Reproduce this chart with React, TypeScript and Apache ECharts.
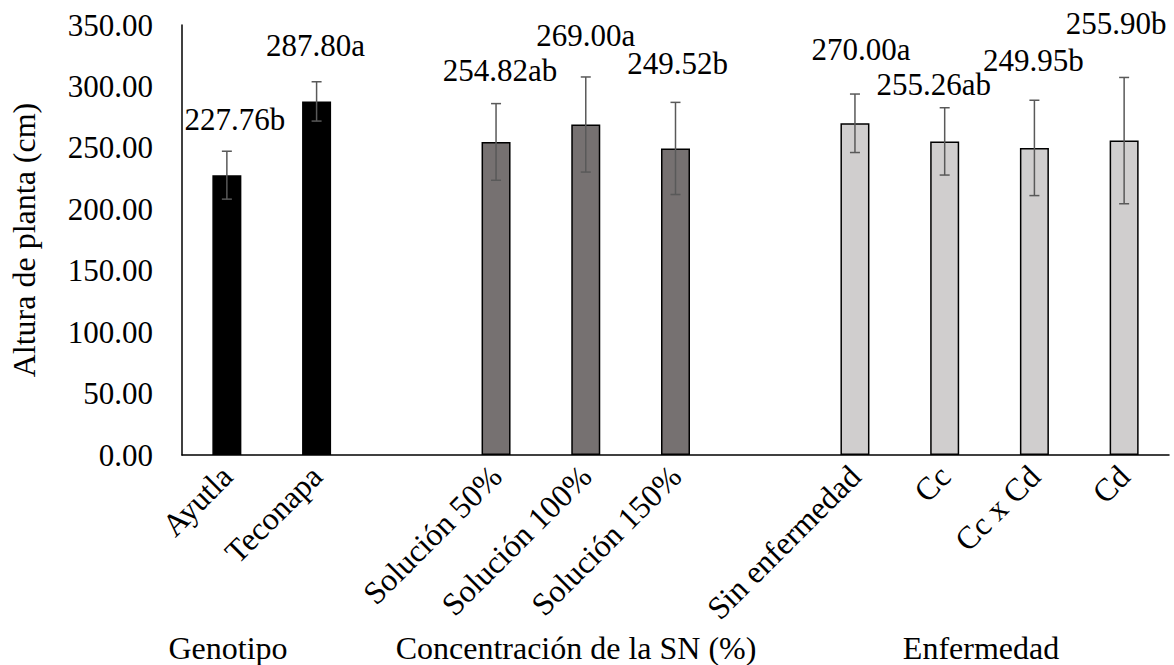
import React, { useEffect, useRef } from "react";
import * as echarts from "echarts";

const categories = ["Ayutla", "Teconapa", "", "Solución 50%", "Solución 100%", "Solución 150%", "", "Sin enfermedad", "Cc", "Cc x Cd", "Cd"];
const means: (number | null)[] = [227.76, 287.8, null, 254.82, 269.0, 249.52, null, 270.0, 255.26, 249.95, 255.9];
const errors: (number | null)[] = [19.5, 16, null, 31.2, 38.7, 37.5, null, 23.8, 27.4, 38.8, 51.4];
const letters = ["b", "a", "", "ab", "a", "b", "", "a", "ab", "b", "b"];
const yTicks = [0, 50, 100, 150, 200, 250, 300, 350];
const groupNames = ["Genotipo", "Concentración de la SN (%)", "Enfermedad"];

// styles (not data)
const fillColors = ["#000000", "#000000", "", "#767171", "#767171", "#767171", "", "#d0cece", "#d0cece", "#d0cece", "#d0cece"];
const labelOffsets: [number, number][] = [
  [8, -40], [-1, -40], [0, 0], [4, -56], [0, -74], [2, -69], [0, 0], [6, -58], [-11, -41], [-1, -72], [-8, -102],
];
const groupX = [228, 576, 981];

const FONT = "Liberation Serif";
const FS = 31;
const FS_BIG = 32;

export default function App() {
  const ref = useRef<HTMLDivElement>(null);
  useEffect(() => {
    if (!ref.current) return;
    const chart = echarts.init(ref.current, null, { renderer: "svg" });
    const barData = means.map((v, i) =>
      v == null
        ? null
        : {
            value: v,
            itemStyle: { color: fillColors[i], borderColor: "#000000", borderWidth: 1.5 },
            label: {
              show: true,
              position: "top",
              distance: 0,
              offset: labelOffsets[i],
              formatter: v.toFixed(2) + letters[i],
              fontFamily: FONT,
              fontSize: FS,
              color: "#000000",
            },
          }
    );
    const errData = means
      .map((v, i) => (v == null || errors[i] == null ? null : [i, v - (errors[i] as number), v + (errors[i] as number)]))
      .filter((d) => d != null);

    chart.setOption({
      animation: false,
      textStyle: { fontFamily: FONT },
      grid: { left: 179, right: 5, top: 25, bottom: 210, containLabel: false },
      xAxis: {
        type: "category",
        data: categories,
        axisLine: { show: true, lineStyle: { color: "#000000", width: 1.5 } },
        axisTick: { show: false },
        axisLabel: {
          interval: 0,
          rotate: 45,
          margin: 16,
          fontFamily: FONT,
          fontSize: FS_BIG,
          color: "#000000",
        },
      },
      yAxis: {
        type: "value",
        min: yTicks[0],
        max: yTicks[yTicks.length - 1],
        interval: 50,
        name: "Altura de planta (cm)",
        nameLocation: "middle",
        nameGap: 142,
        nameTextStyle: { fontFamily: FONT, fontSize: FS_BIG, color: "#000000" },
        axisLine: { show: true, lineStyle: { color: "#000000", width: 1.5 } },
        axisTick: { show: false },
        splitLine: { show: false },
        axisLabel: {
          margin: 29,
          fontFamily: FONT,
          fontSize: FS,
          color: "#000000",
          formatter: (v: number) => v.toFixed(2),
        },
      },
      series: [
        {
          type: "bar",
          data: barData,
          barWidth: 29,
          z: 2,
          label: { fontFamily: FONT, fontSize: FS, color: "#000000" },
        },
        {
          type: "custom",
          data: errData,
          z: 5,
          renderItem: (params: any, api: any) => {
            const x = api.value(0);
            const lo = api.coord([x, api.value(1)]);
            const hi = api.coord([x, api.value(2)]);
            const cap = 5;
            const style = { stroke: "#595959", lineWidth: 1.5 };
            return {
              type: "group",
              children: [
                { type: "line", shape: { x1: hi[0], y1: hi[1], x2: lo[0], y2: lo[1] }, style },
                { type: "line", shape: { x1: hi[0] - cap, y1: hi[1], x2: hi[0] + cap, y2: hi[1] }, style },
                { type: "line", shape: { x1: lo[0] - cap, y1: lo[1], x2: lo[0] + cap, y2: lo[1] }, style },
              ],
            };
          },
        },
      ],
      graphic: groupNames.map((name, i) => ({
        type: "text",
        x: groupX[i],
        y: 648,
        style: {
          text: name,
          fontFamily: FONT,
          fontSize: FS_BIG,
          fill: "#000000",
          textAlign: "center",
          textVerticalAlign: "middle",
        },
      })),
    });
    return () => chart.dispose();
  }, []);
  return <div ref={ref} style={{ width: 1174, height: 665, position: "absolute", left: 0, top: 0 }} />;
}
